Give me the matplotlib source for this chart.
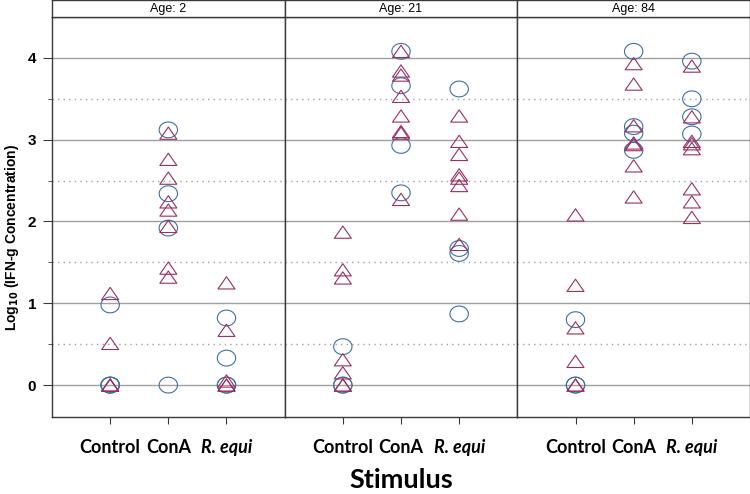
import matplotlib
matplotlib.use("Agg")
import matplotlib.pyplot as plt
import numpy as np
from matplotlib.path import Path

# ---------------- data ----------------
ages = ["Age: 2", "Age: 21", "Age: 84"]
stimuli = ["Control", "ConA", "R. equi"]

# circles (blue) per stimulus, per age
circ_age2 = [[0.98, 0.0, 0.0, 0.0], [3.12, 2.34, 1.92, 0.0], [0.82, 0.33, 0.0, 0.0]]
circ_age21 = [[0.47, 0.0, 0.0], [4.08, 3.66, 2.93, 2.35], [3.62, 1.67, 1.61, 0.87]]
circ_age84 = [[0.80, 0.0, 0.0], [4.08, 3.16, 3.08, 2.87], [3.96, 3.50, 3.28, 3.07]]

# triangles (purple) per stimulus, per age
tri_age2 = [[1.12, 0.51, 0.0, 0.0, 0.0],
            [3.08, 2.76, 2.53, 2.24, 2.14, 1.94, 1.43, 1.32],
            [1.25, 0.67, 0.05, 0.0, 0.0]]
tri_age21 = [[1.87, 1.41, 1.31, 0.31, 0.15, 0.0, 0.0],
             [4.08, 3.84, 3.79, 3.53, 3.29, 3.10, 3.08, 2.27],
             [3.29, 2.98, 2.82, 2.57, 2.53, 2.44, 2.09, 1.72]]
tri_age84 = [[2.08, 1.22, 0.70, 0.29, 0.0, 0.0],
             [3.93, 3.68, 3.17, 2.96, 2.94, 2.68, 2.30],
             [3.90, 3.28, 2.98, 2.95, 2.89, 2.40, 2.24, 2.05]]

circ_all = [circ_age2, circ_age21, circ_age84]
tri_all = [tri_age2, tri_age21, tri_age84]

y_ticks = [0, 1, 2, 3, 4]

# ---------------- styling ----------------
W, H = 750, 494
fig = plt.figure(figsize=(W / 100, H / 100), dpi=100)

blue = "#3f6fa6"
purple = "#9a2f62"
grid_c = "#a0a0a0"
spine_c = "#3a3a3a"

# custom markers: slightly flattened ellipse and wide triangle
t = np.linspace(0, 2 * np.pi, 60)
ell = Path(np.column_stack([np.cos(t), 0.86 * np.sin(t)]), closed=True)
tri = Path([(0, 0.72), (-1, -0.72), (1, -0.72), (0, 0.72)], closed=True)

left_px, top_px, bot_px = 52, 17, 417
pw = (W - left_px) / 3

for i in range(3):
    ax = fig.add_axes([(left_px + i * pw) / W, (H - bot_px) / H,
                       pw / W, (bot_px - top_px) / H])
    ax.set_xlim(0, 4)
    ax.set_ylim(-0.39, 4.5)
    for y in y_ticks:
        ax.axhline(y, color=grid_c, lw=1.0, zorder=1)
    for y in [0.5, 1.5, 2.5, 3.5]:
        ax.axhline(y, color=grid_c, lw=1.0, ls=(0, (1, 3)), zorder=1)
    for j in range(3):
        cv = circ_all[i][j]
        tv = tri_all[i][j]
        ax.scatter([j + 1] * len(cv), cv, marker=ell, s=175, facecolors="none",
                   edgecolors=blue, linewidths=0.8, zorder=3)
        ax.scatter([j + 1] * len(tv), tv, marker=tri, s=150, facecolors="none",
                   edgecolors=purple, linewidths=0.8, zorder=4)
    for s in ax.spines.values():
        s.set_color(spine_c)
        s.set_linewidth(1.0)
    ax.set_xticks([1, 2, 3])
    ax.set_xticklabels([])
    ax.tick_params(axis="x", direction="out", length=5, color=spine_c)
    for j, lab in enumerate(stimuli):
        style = "italic" if lab.startswith("R.") else "normal"
        ax.text(j + 1, -0.39 - 0.37, lab, ha="center", va="center",
                fontsize=13, fontweight="bold", style=style,
                family="Lato", transform=ax.transData, clip_on=False)
    if i == 0:
        ax.set_yticks(y_ticks)
        ax.set_yticklabels([str(v) for v in y_ticks], fontweight="bold",
                           fontsize=11, family="Liberation Sans")
        ax.set_yticks([0.5, 1.5, 2.5, 3.5], minor=True)
        ax.tick_params(axis="y", which="major", direction="out", length=6.5,
                       pad=5, color=spine_c)
        ax.tick_params(axis="y", which="minor", direction="out", length=3,
                       color=spine_c)
    else:
        ax.set_yticks([])
    # strip
    sax = fig.add_axes([(left_px + i * pw) / W, (H - top_px) / H,
                        pw / W, (top_px) / H])
    sax.set_xticks([])
    sax.set_yticks([])
    sax.set_facecolor("white")
    for s in sax.spines.values():
        s.set_color(spine_c)
        s.set_linewidth(1.0)
    sax.text(0.5, 0.45, ages[i], ha="center", va="center", fontsize=9,
             family="Liberation Sans", transform=sax.transAxes)

fig.text(12 / W, 1 - 237 / H, r"Log$_{\mathbf{10}}$ (IFN-g Concentration)",
         rotation=90, ha="center", va="center", fontsize=10,
         fontweight="bold", family="Liberation Sans")
fig.text((left_px + 1.5 * pw) / W, 1 - 480 / H, "Stimulus", ha="center",
         va="center", fontsize=19.5, fontweight="bold", family="Lato")

fig.savefig("out.png", dpi=100)
